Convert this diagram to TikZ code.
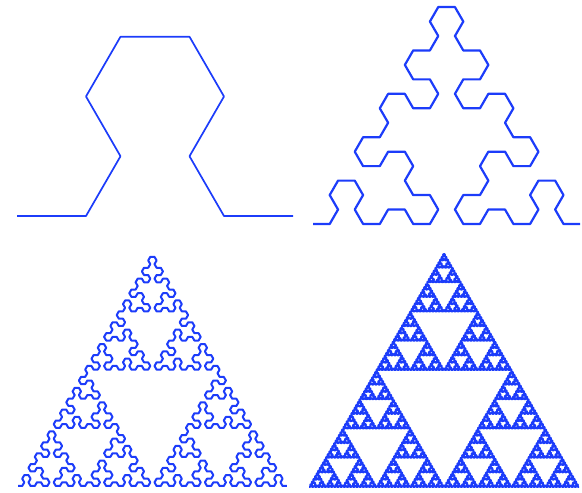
\documentclass[tikz,border=0pt]{standalone}
\usepackage{xcolor}
\usepackage{tikz}
\usetikzlibrary{lindenmayersystems}
\definecolor{ArrowBlue}{RGB}{28,60,250}

\pgfdeclarelindenmayersystem{arrowhead}{
  \symbol{A}{\pgflsystemdrawforward}
  \symbol{B}{\pgflsystemdrawforward}
  \rule{A -> B-A-B}
  \rule{B -> A+B+A}
}

\begin{document}
\begin{tikzpicture}[x=1pt, y=1pt, line join=round]
  \useasboundingbox (0,0) rectangle (582,493);
  % four orders of the arrowhead curve
  \foreach \px/\py/\ord/\len/\lw in {
    17/277/2/69pt/1.7pt,
    313/269/4/16.7pt/2.2pt,
    18/7/6/4.2pt/2pt,
    309/6/8/1.055pt/1.8pt
  } {
    \begin{scope}[shift={(\px,\py)}]
      \draw[ArrowBlue, line width=\lw,
            l-system={arrowhead, axiom=A, order=\ord, angle=60, step=\len}]
            lindenmayer system;
    \end{scope}
  }
\end{tikzpicture}
\end{document}
